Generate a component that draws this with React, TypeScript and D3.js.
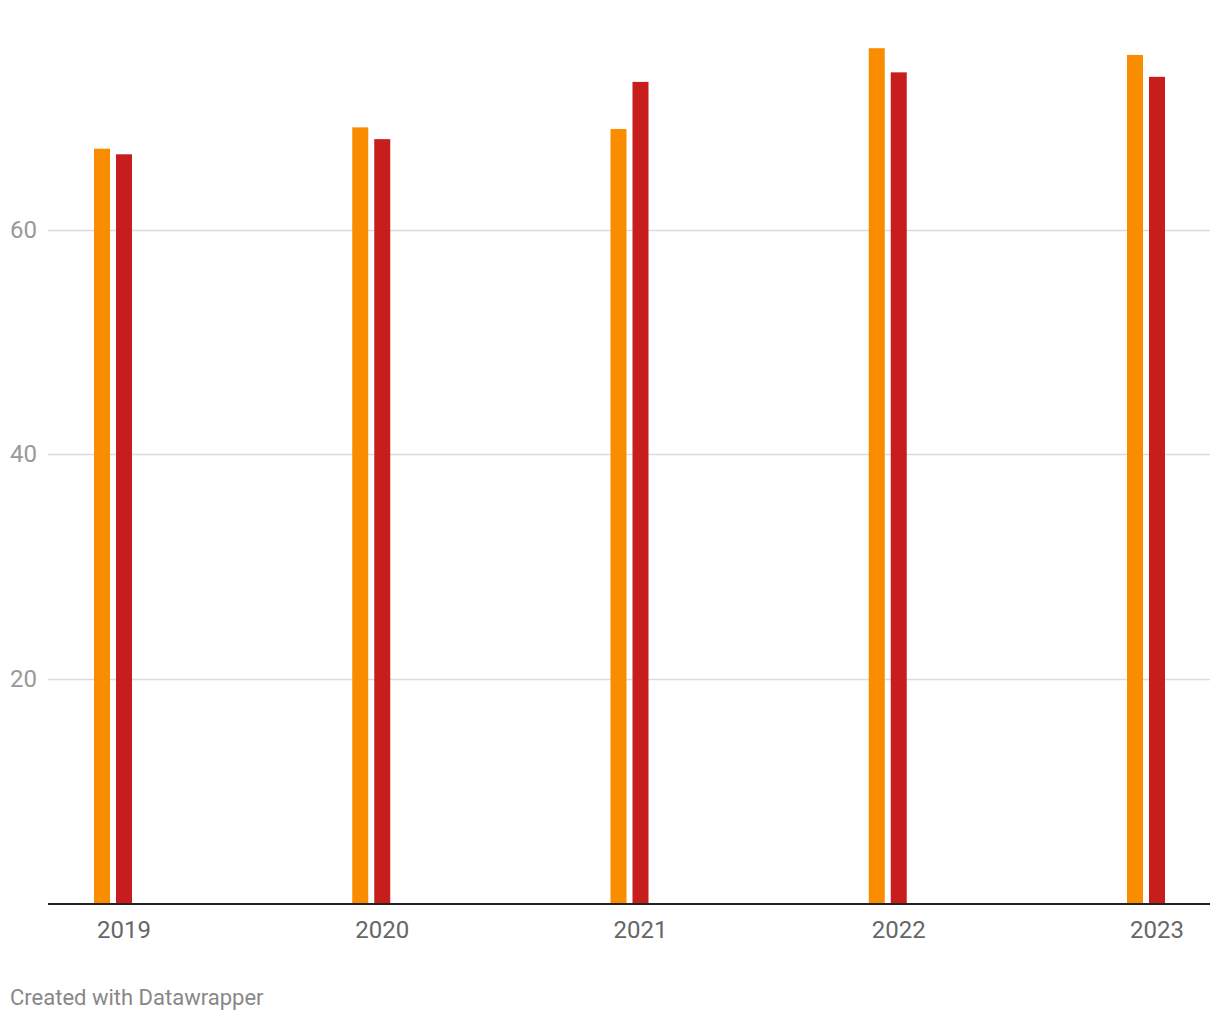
import React from "react";
import * as d3 from "d3";

const years = ["2019", "2020", "2021", "2022", "2023"];
const seriesA = [67.2, 69.1, 68.95, 76.15, 75.55];
const seriesB = [66.7, 68.05, 73.15, 74.0, 73.6];
const yTicks = [20, 40, 60];
const colors = ["#fa8c00", "#c71e1d"];

export default function App() {
  const W = 1220, H = 1020;
  const x = d3.scalePoint<string>().domain(years).range([124, 1157]);
  const y = d3.scaleLinear().domain([0, 60]).range([903, 229.5]);
  const barW = 16, gap = 6;
  const series = [seriesA, seriesB];
  const font = "Roboto, 'Noto Sans', sans-serif";
  return (
    <svg width={W} height={H} style={{ position: "absolute", left: 0, top: 0, background: "#fff" }}>
      {yTicks.map((t) => (
        <g key={t}>
          <line x1={48} x2={1210} y1={Math.round(y(t)) + 0.5} y2={Math.round(y(t)) + 0.5} stroke="#dcdcdc" strokeWidth={1.3} />
          <text x={10} y={y(t)} dy="0.35em" fontFamily={font} fontSize={24} fill="#999">{t}</text>
        </g>
      ))}
      {years.map((yr, i) => {
        const c = x(yr)!;
        const left = c - 1.5 * barW - gap;
        return (
          <g key={yr}>
            {series.map((s, j) => (
              <rect key={j} x={left + j * (barW + gap)} y={y(s[i])} width={barW} height={y(0) - y(s[i])} fill={colors[j]} />
            ))}
            <text x={c} y={938} textAnchor="middle" fontFamily={font} fontSize={24} fill="#666">{yr}</text>
          </g>
        );
      })}
      <line x1={48} x2={1210} y1={904} y2={904} stroke="#222" strokeWidth={2} />
      <text x={10} y={1005} fontFamily={font} fontSize={22} fill="#888">Created with Datawrapper</text>
    </svg>
  );
}
